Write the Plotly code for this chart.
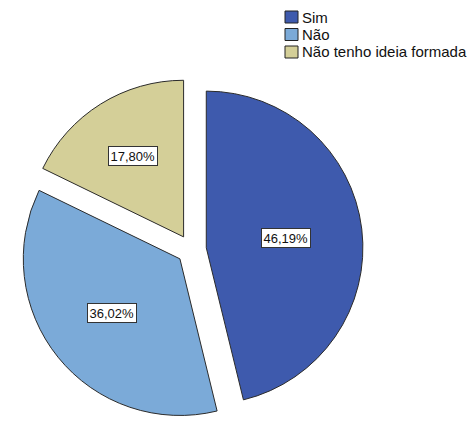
import math
import plotly.graph_objects as go

# Survey answers and their shares (%)
categories = ["Sim", "Não", "Não tenho ideia formada"]
shares = [46.19, 36.02, 17.80]
colors = ["#3e5aad", "#7baad8", "#d4cf98"]

W, H = 472, 421
pull = 0.095

# Pie placement in pixels (centre and square box side)
cx_px, cy_px = 191.5, 249.5
box = 2 * (H - cy_px)

dom_x = [(cx_px - box / 2) / W, (cx_px + box / 2) / W]
dom_y = [(H - cy_px - box / 2) / H, (H - cy_px + box / 2) / H]

FONT = "Liberation Sans, Arial, sans-serif"

fig = go.Figure(
    go.Pie(
        labels=categories,
        values=shares,
        sort=False,
        direction="clockwise",
        rotation=0,
        pull=[pull] * len(shares),
        marker=dict(colors=colors, line=dict(color="#2b2b2b", width=1)),
        textinfo="none",
        hoverinfo="skip",
        showlegend=False,
        domain=dict(x=dom_x, y=dom_y),
    )
)

# Radius as plotly computes it for a pulled pie
r = box / (2 * (1 + pull))

# Percentage labels in white boxes, placed along each slice's bisector,
# nearer the centre for wide slices (follows the sector centroid)
total = sum(shares)
cum = 0.0
annotations = []
for name, v in zip(categories, shares):
    half = math.pi * v / total
    mid = 2 * math.pi * cum / total + half
    cum += v
    centroid = 2 * math.sin(half) / (3 * half)
    frac = 0.25 + 0.57 * centroid
    dx, dy = math.sin(mid), -math.cos(mid)
    px = cx_px + (pull * r + frac * r) * dx
    py = cy_px + (pull * r + frac * r) * dy
    annotations.append(
        dict(
            x=px / W, y=1 - py / H, xref="paper", yref="paper",
            text=f"{v:.2f}".replace(".", ",") + "%",
            showarrow=False,
            font=dict(family=FONT, size=13, color="#111111"),
            bgcolor="white", bordercolor="#333333", borderwidth=1, borderpad=1.5,
            xanchor="center", yanchor="middle",
        )
    )

# Legend drawn as boxed swatches with labels at the top right
shapes = []
lx0, lx1 = 285, 298
ly0 = 11
step = 17.5
for i, (name, col) in enumerate(zip(categories, colors)):
    top = ly0 + i * step
    bot = top + 12
    shapes.append(
        dict(
            type="rect", xref="paper", yref="paper",
            x0=lx0 / W, x1=lx1 / W, y0=1 - bot / H, y1=1 - top / H,
            fillcolor=col, line=dict(color="#222222", width=1),
        )
    )
    annotations.append(
        dict(
            x=(lx1 + 2) / W, y=1 - (top + 6) / H, xref="paper", yref="paper",
            text=name, showarrow=False,
            font=dict(family=FONT, size=15, color="#111111"),
            xanchor="left", yanchor="middle",
        )
    )

fig.update_layout(
    width=W, height=H,
    margin=dict(l=0, r=0, t=0, b=0),
    paper_bgcolor="white", plot_bgcolor="white",
    annotations=annotations,
    shapes=shapes,
)

fig.write_html("out.html")
